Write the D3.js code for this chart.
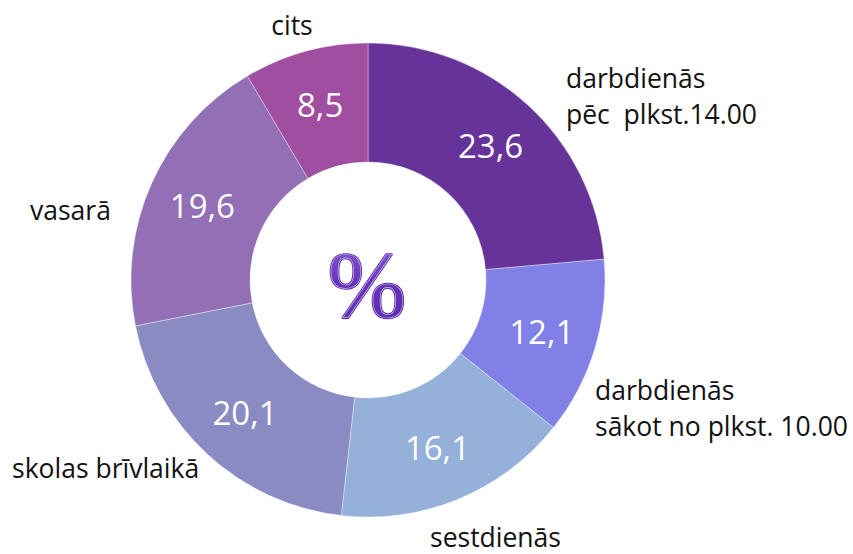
<!DOCTYPE html>
<html><head><meta charset="utf-8">
<script src="https://cdn.jsdelivr.net/npm/d3@7"></script>
<style>body{margin:0;background:#fff}svg{display:block}</style>
</head><body>
<svg id="c" width="853" height="554"></svg>
<script>
const categories = ["darbdienās\npēc  plkst.14.00", "darbdienās\nsākot no plkst. 10.00", "sestdienās", "skolas brīvlaikā", "vasarā", "cits"];
const values = [23.6, 12.1, 16.1, 20.1, 19.6, 8.5];
const valueLabels = ["23,6", "12,1", "16,1", "20,1", "19,6", "8,5"];
const colors = ["#663399", "#8080e6", "#95b1d9", "#8a8bc2", "#9370b6", "#a04ea0"];

// layout for outer category labels
const outerLayout = [
  {x: 566, y: 88, anchor: "start"},
  {x: 595, y: 400, anchor: "start"},
  {x: 430, y: 547, anchor: "start"},
  {x: 12, y: 478, anchor: "start"},
  {x: 30, y: 220, anchor: "start"},
  {x: 292, y: 35, anchor: "middle"}
];

const svg = d3.select("#c");
const cx = 368, cy = 280, R = 237, r0 = 118;
const g = svg.append("g").attr("transform", `translate(${cx},${cy})`);
const pie = d3.pie().sort(null).value(d => d)(values);
const arc = d3.arc().innerRadius(r0).outerRadius(R);
const color = d3.scaleOrdinal().domain(d3.range(values.length)).range(colors);

g.selectAll("path").data(pie).join("path")
  .attr("d", arc).attr("fill", (d, i) => color(i))
  .attr("stroke", "rgba(255,255,255,0.45)").attr("stroke-width", 0.8);

const labelArc = d3.arc().innerRadius(r0 + 4).outerRadius(R + 4);
g.selectAll("text.v").data(pie).join("text").attr("class", "v")
  .attr("transform", d => { const [x, y] = labelArc.centroid(d); return `translate(${x},${y})`; })
  .attr("text-anchor", "middle").attr("dy", "0.36em")
  .attr("font-family", "Open Sans, Noto Sans, sans-serif").attr("font-size", 33)
  .attr("fill", "#fff").text((d, i) => valueLabels[i]);

categories.forEach((c, i) => {
  const L = outerLayout[i];
  const t = svg.append("text").attr("x", L.x).attr("y", L.y)
    .attr("text-anchor", L.anchor)
    .attr("font-family", "Open Sans, Noto Sans, sans-serif").attr("font-size", 26.5).attr("fill", "#111");
  c.split("\n").forEach((line, j) => {
    t.append("tspan").attr("x", L.x).attr("dy", j === 0 ? 0 : 36).attr("xml:space", "preserve").text(line);
  });
});

// center symbol
const defs = svg.append("defs");
const grad = defs.append("linearGradient").attr("id", "pg").attr("x1", 0).attr("y1", 0).attr("x2", 0).attr("y2", 1);
grad.append("stop").attr("offset", "0%").attr("stop-color", "#8f63d8");
grad.append("stop").attr("offset", "50%").attr("stop-color", "#6632b8");
grad.append("stop").attr("offset", "100%").attr("stop-color", "#5a2aa8");
svg.append("text").attr("x", cx - 1).attr("y", 316)
  .attr("text-anchor", "middle").attr("font-family", "Liberation Serif, DejaVu Serif, serif")
  .attr("font-size", 94).attr("fill", "url(#pg)")
  .attr("stroke", "#5a2aa8").attr("stroke-width", 2.6).attr("stroke-linejoin", "round")
  .attr("paint-order", "stroke")
  .text("%");
svg.append("text").attr("x", cx - 1).attr("y", 316)
  .attr("text-anchor", "middle").attr("font-family", "Liberation Serif, DejaVu Serif, serif")
  .attr("font-size", 94).attr("fill", "none")
  .attr("stroke", "#c8b4ee").attr("stroke-width", 0.7)
  .text("%");
</script>
</body></html>
